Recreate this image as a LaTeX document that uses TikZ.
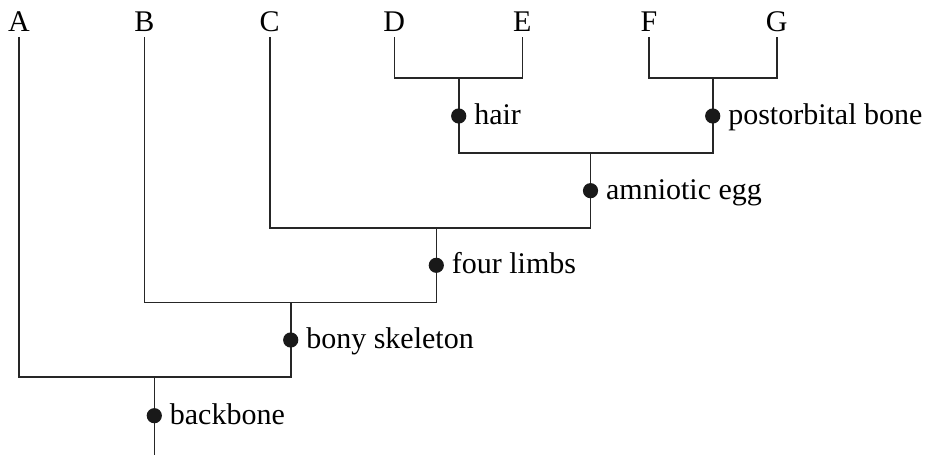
\documentclass[tikz,border=0pt]{standalone}
\usepackage{fontspec}
\setmainfont{Liberation Serif}
\begin{document}
\begin{tikzpicture}[x=0.5pt,y=-0.5pt,
  br/.style={line width=0.8pt, draw=black!85},
  dotc/.style={circle, fill=black!90, draw=none, inner sep=0pt, minimum size=7.6pt},
  lbl/.style={anchor=base west, inner sep=0pt, font=\fontsize{15}{18}\selectfont},
  tip/.style={anchor=base, inner sep=0pt, font=\fontsize{15}{18}\selectfont}]
\useasboundingbox (0,0) rectangle (930,458);
% leaf labels
\node[tip] (A) at (19,32) {A};
\node[tip] (B) at (144.3,32) {B};
\node[tip] (C) at (269.7,32) {C};
\node[tip] (D) at (394.3,32) {D};
\node[tip] (E) at (522.3,32) {E};
\node[tip] (F) at (649,32) {F};
\node[tip] (G) at (776.7,32) {G};
% tips of branches
\coordinate (tA) at (19,37);
\coordinate (tB) at (144.3,37);
\coordinate (tC) at (269.7,37);
\coordinate (tD) at (394.3,37);
\coordinate (tE) at (522.3,37);
\coordinate (tF) at (649,37);
\coordinate (tG) at (776.7,37);
% stems
\coordinate (sDE) at (458.7,78.3);
\coordinate (sFG) at (712.7,78.3);
\coordinate (sDG) at (590.5,153.3);
\coordinate (sCG) at (436.3,228.3);
\coordinate (sBG) at (290.7,302.7);
\coordinate (sAG) at (154.3,377.3);
\coordinate (root) at (154.3,455);
% branches
\draw[br] (tD) |- (sDE) -| (tE);
\draw[br] (tF) |- (sFG) -| (tG);
\draw[br] (sDE) |- (sDG) -| (sFG);
\draw[br] (tC) |- (sCG) -| (sDG);
\draw[br] (tB) |- (sBG) -| (sCG);
\draw[br] (tA) |- (sAG) -| (sBG);
\draw[br] (sAG) -- (root);
% character dots
\node[dotc] (dHair) at (458.7,116) {};
\node[dotc] (dPost) at (712.7,116) {};
\node[dotc] (dAmn) at (590.5,190.7) {};
\node[dotc] (dLimb) at (436.3,265.3) {};
\node[dotc] (dBony) at (290.7,340) {};
\node[dotc] (dBack) at (154.3,415.7) {};
% character labels
\node[lbl] (lHair) at ([xshift=7.6pt,yshift=-4.25pt]dHair.center) {hair};
\node[lbl] (lPost) at ([xshift=7.6pt,yshift=-4.25pt]dPost.center) {postorbital bone};
\node[lbl] (lAmn) at ([xshift=7.6pt,yshift=-4.25pt]dAmn.center) {amniotic egg};
\node[lbl] (lLimb) at ([xshift=7.6pt,yshift=-4.25pt]dLimb.center) {four limbs};
\node[lbl] (lBony) at ([xshift=7.6pt,yshift=-4.25pt]dBony.center) {bony skeleton};
\node[lbl] (lBack) at ([xshift=7.6pt,yshift=-4.25pt]dBack.center) {backbone};
\end{tikzpicture}
\end{document}
